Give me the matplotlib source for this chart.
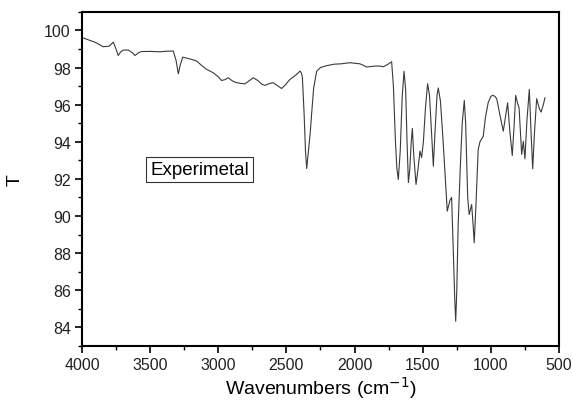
import matplotlib
matplotlib.use("Agg")
import matplotlib.pyplot as plt
from matplotlib.ticker import MultipleLocator

plt.rcParams['font.family'] = ['Liberation Sans', 'DejaVu Sans']

wavenumber = [4000, 3900, 3844, 3800, 3770, 3750, 3734, 3715, 3697, 3660, 3630, 3611, 3580, 3562,
              3500, 3428, 3380, 3330, 3310, 3293, 3280, 3261, 3200, 3158, 3120, 3085, 3037, 3000,
              2975, 2950, 2927, 2900, 2877, 2840, 2804, 2770, 2743, 2710, 2680, 2657, 2620, 2596,
              2560, 2535, 2510, 2474, 2430, 2400, 2390, 2383, 2370, 2360, 2351, 2340, 2325, 2315,
              2300, 2278, 2250, 2205, 2150, 2100, 2034, 1960, 1911, 1850, 1813, 1789, 1750, 1728,
              1715, 1700, 1690, 1679, 1665, 1650, 1637, 1625, 1615, 1605, 1595, 1585, 1576, 1565,
              1549, 1535, 1520, 1508, 1495, 1480, 1464, 1450, 1435, 1422, 1410, 1395, 1386, 1370,
              1350, 1330, 1320, 1300, 1288, 1275, 1265, 1258, 1250, 1240, 1225, 1210, 1195, 1185,
              1170, 1159, 1141, 1130, 1122, 1110, 1093, 1080, 1056, 1040, 1020, 1000, 987, 970,
              957, 935, 909, 890, 877, 860, 843, 830, 818, 805, 793, 774, 762, 750, 735, 718, 705,
              693, 680, 664, 645, 632, 615, 603]
transmittance = [99.62, 99.35, 99.12, 99.15, 99.37, 99.0, 98.65, 98.85, 98.94, 98.94, 98.8, 98.65, 98.82, 98.86,
                 98.87, 98.85, 98.88, 98.89, 98.4, 97.66, 98.1, 98.56, 98.45, 98.35, 98.1, 97.9, 97.72, 97.5,
                 97.30, 97.35, 97.45, 97.3, 97.21, 97.15, 97.12, 97.3, 97.45, 97.3, 97.1, 97.04, 97.15, 97.18,
                 97.0, 96.87, 97.05, 97.36, 97.6, 97.81, 97.7, 97.5, 95.5, 93.5, 92.56, 93.4, 94.5, 95.5,
                 96.9, 97.8, 98.0, 98.1, 98.18, 98.2, 98.26, 98.2, 98.03, 98.08, 98.08, 98.04, 98.2, 98.31,
                 97.0, 94.0, 92.6, 91.97, 93.5, 96.5, 97.8, 96.8, 94.0, 91.8, 92.5, 93.9, 94.72, 93.2,
                 91.7, 92.5, 93.5, 93.15, 94.0, 95.8, 97.13, 96.5, 94.5, 92.68, 94.5, 96.5, 96.9, 96.2,
                 94.0, 91.5, 90.26, 90.85, 91.0, 88.0, 85.5, 84.33, 86.0, 89.5, 92.5, 95.0, 96.23, 95.0,
                 91.0, 90.08, 90.62, 89.5, 88.56, 90.5, 93.58, 94.0, 94.3, 95.3, 96.1, 96.45, 96.5, 96.45,
                 96.32, 95.5, 94.57, 95.5, 96.1, 94.5, 93.26, 94.8, 96.5, 96.1, 95.83, 93.32, 94.03, 93.08, 95.2, 96.82, 94.5,
                 92.54, 94.5, 96.32, 95.8, 95.6, 96.0, 96.37]

x_ticks = [4000, 3500, 3000, 2500, 2000, 1500, 1000, 500]
y_ticks = [84, 86, 88, 90, 92, 94, 96, 98, 100]

fig = plt.figure(figsize=(5.73, 4.02), dpi=100)
ax = fig.add_axes([0.143, 0.137, 0.8326, 0.831])
ax.plot(wavenumber, transmittance, color='#3a3a3a', lw=0.8)

ax.set_xlim(4000, 500)
ax.set_ylim(83, 101)
ax.set_xticks(x_ticks)
ax.set_yticks(y_ticks)
ax.xaxis.set_minor_locator(MultipleLocator(250))
ax.yaxis.set_minor_locator(MultipleLocator(1))
ax.tick_params(which='major', direction='out', length=5, width=1.2, labelsize=11.5, pad=3,
               top=False, right=False, labelcolor='#222222')
ax.tick_params(which='minor', direction='out', length=3, width=1.0, top=False, right=False)
for s in ax.spines.values():
    s.set_linewidth(1.5)

ax.set_xlabel('Wavenumbers (cm$^{-1}$)', fontsize=14)
ax.set_ylabel('T', fontsize=14)
ax.xaxis.set_label_coords(0.5, -0.085)
ax.yaxis.set_label_coords(-0.122, 0.5)

ax.text(3134, 92.5, 'Experimetal', fontsize=13.5, ha='center', va='center',
        bbox=dict(boxstyle='square,pad=0.22', facecolor='white', edgecolor='#333333', linewidth=0.8))

fig.savefig('out.png', dpi=100)
